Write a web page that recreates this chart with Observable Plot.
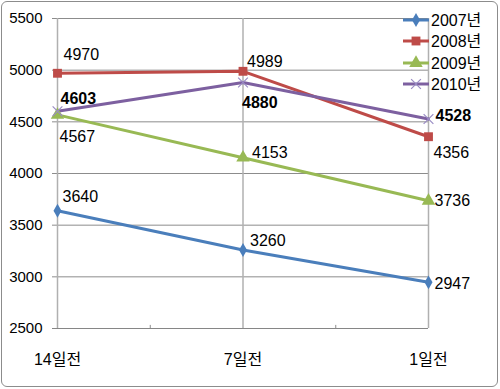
<!DOCTYPE html>
<html><head><meta charset="utf-8">
<script src="https://cdn.jsdelivr.net/npm/d3@7"></script>
<script src="https://cdn.jsdelivr.net/npm/@observablehq/plot@0.6"></script>
<style>
body{margin:0;background:#fff;}
#wrap{position:relative;width:500px;height:389px;font-family:"Liberation Sans","Noto Sans CJK KR",sans-serif;}
#border{position:absolute;left:1px;top:1px;width:495px;height:384px;border:1px solid #8c8c8c;border-radius:6px;pointer-events:none;}
#chart{position:absolute;left:0;top:0;}
#legend{position:absolute;left:0;top:0;pointer-events:none;}
</style></head><body>
<div id="wrap"><div id="chart"></div><svg id="legend" width="500" height="389"></svg><div id="border"></div></div>
<script>
const categories = ["14일전", "7일전", "1일전"];
const seriesNames = ["2007년", "2008년", "2009년", "2010년"];
const values2007 = [3640, 3260, 2947];
const values2008 = [4970, 4989, 4356];
const values2009 = [4567, 4153, 3736];
const values2010 = [4603, 4880, 4528];
const yTicks = [2500, 3000, 3500, 4000, 4500, 5000, 5500];

// styling / layout (not data)
const colors = ["#4a7ebb", "#be4b48", "#98b954", "#7d60a0"];
const symbols = ["diamond", "square", "triangle", "times"];
const symR = [4.2, 5, 5, 4.5];
const markFill = ["#4a7ebb", "#be4b48", "#98b954", "none"];
const markStroke = ["none", "none", "none", "#9a8cc4"];
const bold = [false, false, false, true];
const labelOffsets = [
  [[5, -14], [7, -9], [6, 2]],
  [[6, -18], [4, -9], [5, 16]],
  [[2, 22], [9, -5], [6, 0]],
  [[3, -12], [-1, 20], [7, -3]]
];

const allValues = [values2007, values2008, values2009, values2010];
const rows = [];
allValues.forEach((vals, s) => vals.forEach((v, i) => rows.push({s, series: seriesNames[s], i, value: v})));

const font = '"Liberation Sans","Noto Sans CJK KR",sans-serif';

const marks = [
  Plot.ruleY(yTicks, {y: d => d, stroke: "#8c8c8c", strokeWidth: 1}),
  Plot.ruleX([0, 1, 2], {x: d => d, y1: 2500, y2: 5500, stroke: "#b0b0b0", strokeWidth: 1.5}),
  Plot.ruleX([0.5, 1.5], {x: d => d, y1: 2500, y2: 2530, stroke: "#8c8c8c", strokeWidth: 1}),
  Plot.ruleY([2500], {stroke: "#868686", strokeWidth: 1}),
  Plot.axisY({ticks: yTicks, tickSize: 0, tickPadding: 10, fontSize: 15, label: null, tickFormat: d => String(d)}),
  Plot.axisX({ticks: [0, 1, 2], tickSize: 0, tickPadding: 25, fontSize: 16, label: null, tickFormat: i => categories[i]})
];
seriesNames.forEach((name, s) => {
  const data = rows.filter(d => d.s === s);
  marks.push(Plot.line(data, {x: "i", y: "value", stroke: colors[s], strokeWidth: 3}));
});
seriesNames.forEach((name, s) => {
  const data = rows.filter(d => d.s === s);
  marks.push(Plot.dot(data, {x: "i", y: "value", symbol: () => symbols[s], r: symR[s], fill: markFill[s], stroke: markStroke[s], strokeWidth: 1.2}));
});
rows.forEach(d => {
  const [dx, dy] = labelOffsets[d.s][d.i];
  marks.push(Plot.text([d], {x: "i", y: "value", text: d => String(d.value), dx, dy, textAnchor: "start", lineAnchor: "middle", fontSize: 16, fontWeight: bold[d.s] ? "bold" : "normal", fill: "#000"}));
});

const chart = Plot.plot({
  width: 500, height: 389,
  marginLeft: 52, marginRight: 72, marginTop: 18, marginBottom: 61,
  style: {fontFamily: font, color: "#000", background: "transparent"},
  x: {type: "linear", domain: [0, 2], range: [57, 428], axis: null},
  y: {domain: [2500, 5500], axis: null},
  symbol: {type: "identity"},
  marks
});
document.getElementById("chart").appendChild(chart);

// legend
const lg = d3.select("#legend");
const rowsY = [20, 41, 63, 84];
seriesNames.forEach((name, s) => {
  const y = rowsY[s];
  lg.append("line").attr("x1", 403).attr("x2", 429).attr("y1", y).attr("y2", y).attr("stroke", colors[s]).attr("stroke-width", 3);
  const symMap = {diamond: d3.symbolDiamond, square: d3.symbolSquare, triangle: d3.symbolTriangle, times: d3.symbolTimes};
  lg.append("path").attr("d", d3.symbol(symMap[symbols[s]], Math.PI * symR[s] * symR[s])())
    .attr("transform", `translate(416,${y})`)
    .attr("fill", markFill[s]).attr("stroke", markStroke[s]).attr("stroke-width", 1.2);
  lg.append("text").attr("x", 431).attr("y", y).attr("dy", "0.35em").attr("font-size", 16).attr("font-family", font).attr("fill", "#000").text(name);
});
</script>
</body></html>
